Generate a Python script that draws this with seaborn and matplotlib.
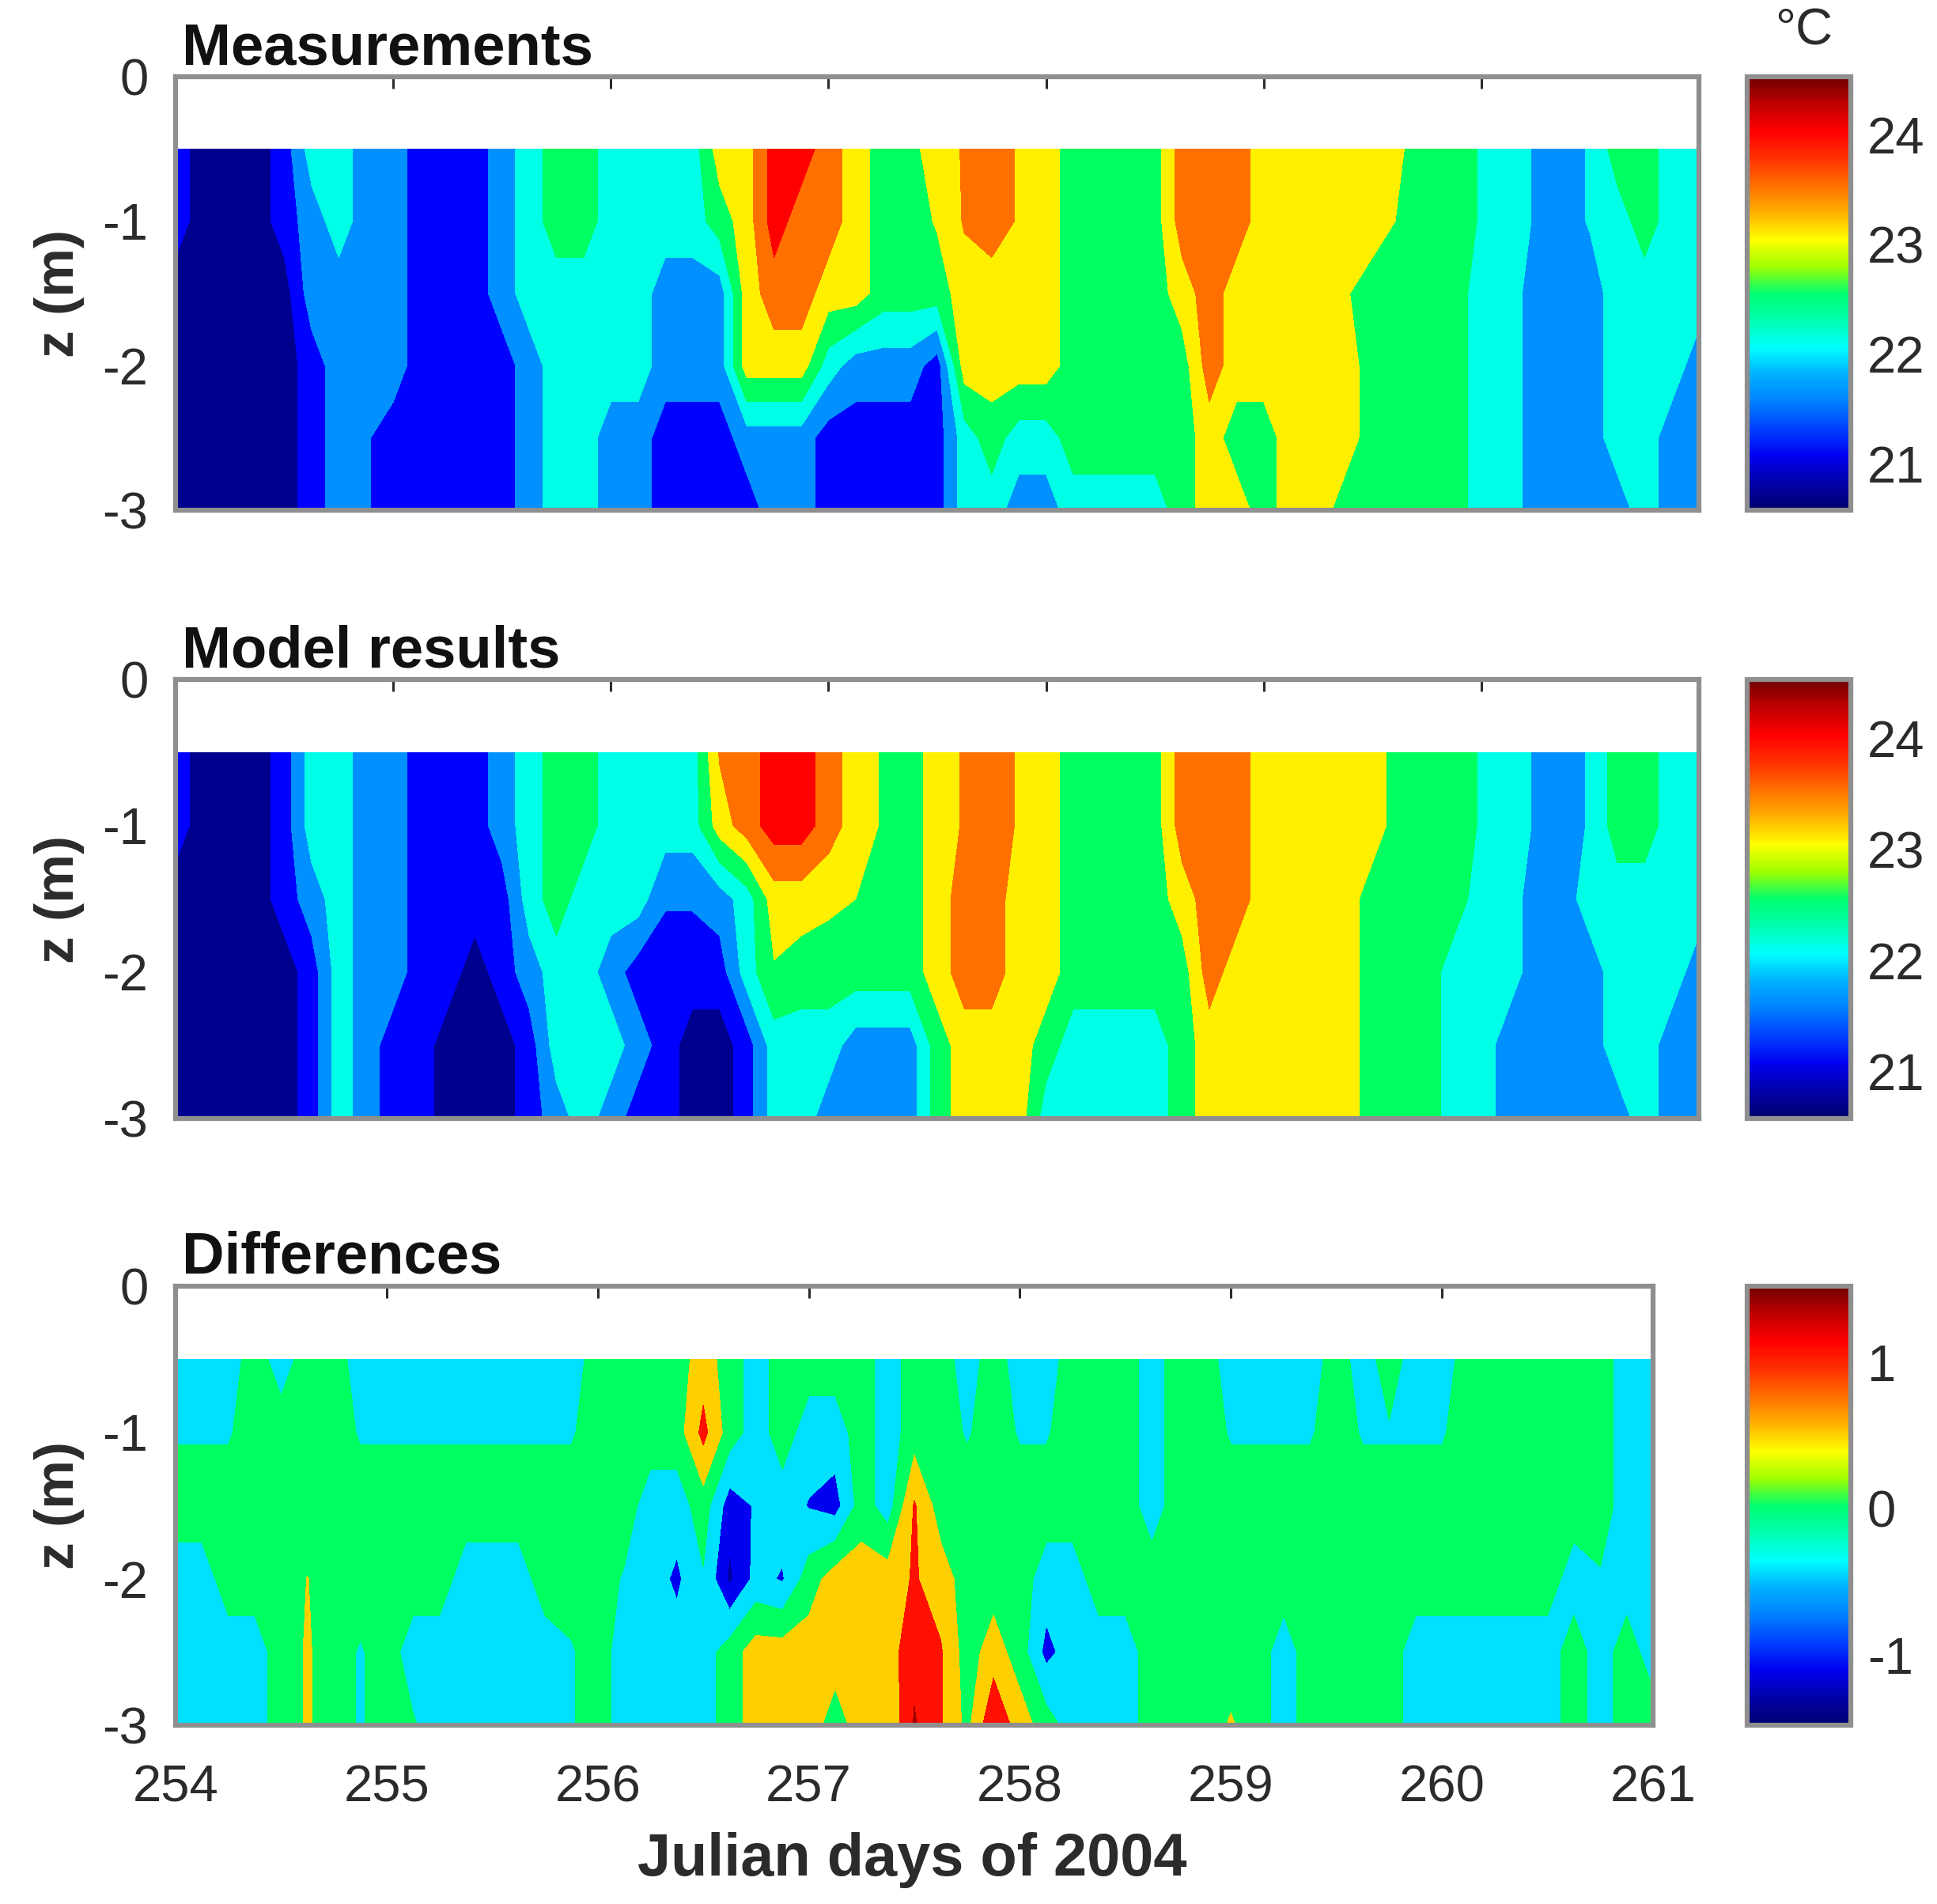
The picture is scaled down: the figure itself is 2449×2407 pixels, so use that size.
import numpy as np
import matplotlib
matplotlib.use("Agg")
import matplotlib.pyplot as plt
from matplotlib.cm import ScalarMappable
from matplotlib.colors import Normalize
import seaborn as sns

W, H = 2449, 2407

# one column every 1/8 day, 254 to 261
days = [254 + i / 8 for i in range(57)]
depths = [-0.5, -1.0, -1.5, -2.0, -2.5, -3.0]

# measured temperature (deg C)
meas_05 = [21, 20.6, 20.6, 20.6, 21, 22, 22, 21.5,
           21.5, 21, 21, 21, 21.5, 22, 22.5, 22.5,
           22, 22, 22, 22, 23, 23, 24, 24,
           23.5, 23, 22.5, 22.6, 23, 23.3, 23.5, 23.2,
           23, 22.5, 22.5, 22.5, 22.5, 23.5, 23.5, 23.5,
           23, 23, 23, 23, 23, 22.8, 22.5, 22.5,
           22.2, 22, 21.7, 21.5, 21.8, 22.5, 22.5, 22,
           22]
meas_10 = [21, 20.6, 20.6, 20.6, 21, 21.5, 22, 21.5,
           21.5, 21, 21, 21, 21.5, 22, 22.5, 22.5,
           22, 22, 22, 22, 22.5, 23, 24, 23.5,
           23.5, 23, 22.5, 22.5, 22.8, 23.3, 23.5, 23.2,
           23, 22.5, 22.5, 22.5, 22.5, 23.5, 23.5, 23.5,
           23, 23, 23, 23, 23, 22.7, 22.5, 22.5,
           22.2, 22, 21.7, 21.5, 21.8, 22, 22.5, 22,
           22]
meas_15 = [20.6, 20.6, 20.6, 20.6, 20.6, 21.5, 21.5, 21.5,
           21.5, 21, 21, 21, 21.5, 22, 22, 22,
           22, 22, 21.5, 21.5, 21.5, 23, 23.5, 23.5,
           23, 23, 22.5, 22.5, 22.5, 23, 23, 23,
           23, 22.5, 22.5, 22.5, 22.5, 23, 23.5, 23,
           23, 23, 23, 22.8, 22.5, 22.5, 22.5, 22.5,
           22, 22, 21.5, 21.5, 21.5, 22, 22, 22,
           22]
meas_20 = [20.6, 20.6, 20.6, 20.6, 20.6, 21, 21.5, 21.5,
           21.5, 21, 21, 21, 21, 21.5, 22, 22,
           22, 22, 21.5, 21.5, 21.5, 23, 23, 23,
           22, 21.5, 21.5, 21.5, 21, 23, 23, 23,
           23, 22.5, 22.5, 22.5, 22.5, 22.5, 23.5, 23,
           23, 23, 23, 23, 22.5, 22.5, 22.5, 22.5,
           22, 22, 21.5, 21.5, 21.5, 22, 22, 22,
           21.5]
meas_25 = [20.6, 20.6, 20.6, 20.6, 20.6, 21, 21.5, 21.3,
           21, 21, 21, 21, 21, 21.5, 22, 22,
           21.5, 21.5, 21, 21, 21, 21.5, 21.5, 21.5,
           21, 21, 21, 21, 21, 22, 22.5, 22,
           22, 22.5, 22.5, 22.5, 22.5, 22.5, 23, 22.5,
           22.5, 23, 23, 23, 22.5, 22.5, 22.5, 22.5,
           22, 22, 21.5, 21.5, 21.5, 22, 22, 21.5,
           21.5]
meas_30 = [20.6, 20.6, 20.6, 20.6, 20.6, 21, 21.5, 21.3,
           21, 21, 21, 21, 21, 21.5, 22, 22,
           21.5, 21.5, 21, 21, 21, 21, 21.5, 21.5,
           21, 21, 21, 21, 21, 22, 22, 21.5,
           21.5, 22, 22, 22, 22, 22.5, 23, 23,
           22.5, 23, 23, 22.5, 22.5, 22.5, 22.5, 22.5,
           22, 22, 21.5, 21.5, 21.5, 21.5, 22, 21.5,
           21.5]

# model temperature (deg C)
model_05 = [21, 20.6, 20.6, 20.6, 21, 22, 22, 21.5,
            21.5, 21, 21, 21, 21.5, 22, 22.5, 22.5,
            22, 22, 22, 22, 23.3, 23.5, 24, 24,
            23.5, 23, 22.7, 22.5, 23, 23.3, 23.5, 23.2,
            23, 22.5, 22.5, 22.5, 22.5, 23.5, 23.5, 23.5,
            23, 23, 23, 23, 23, 22.5, 22.5, 22.5,
            22.2, 22, 21.7, 21.5, 21.8, 22.5, 22.5, 22,
            22]
model_10 = [21, 20.6, 20.6, 20.6, 21, 22, 22, 21.5,
            21.5, 21, 21, 21, 21.5, 22, 22.5, 22.5,
            22, 22, 22, 22, 23, 23.5, 24, 24,
            23.5, 23, 22.7, 22.5, 23, 23.3, 23.5, 23.2,
            23, 22.5, 22.5, 22.5, 22.5, 23.5, 23.5, 23.5,
            23, 23, 23, 23, 23, 22.5, 22.5, 22.5,
            22.2, 22, 21.7, 21.5, 21.8, 22.5, 22.5, 22,
            22]
model_15 = [20.6, 20.6, 20.6, 20.6, 21, 21.5, 22, 21.5,
            21.5, 21, 21, 21, 21, 22, 22.5, 22,
            22, 22, 21.3, 21.3, 21.5, 22, 23, 23,
            22.85, 22.75, 22.5, 22.5, 23, 23.5, 23.5, 23,
            23, 22.5, 22.5, 22.5, 22.5, 23, 23.5, 23.5,
            23, 23, 23, 23, 22.5, 22.5, 22.5, 22.5,
            22, 22, 21.5, 21.5, 22, 22, 22, 22,
            22]
model_20 = [20.6, 20.6, 20.6, 20.6, 20.6, 21, 22, 21.5,
            21.5, 21, 21, 20.6, 21, 21.5, 22, 22,
            21.5, 21, 21, 21, 21, 22, 22.7, 22.5,
            22.5, 22.5, 22.5, 22.5, 23, 23.5, 23.5, 23,
            23, 22.5, 22.5, 22.5, 22.5, 22.5, 23.5, 23,
            23, 23, 23, 23, 22.5, 22.5, 22.5, 22,
            22, 22, 21.5, 21.5, 21.5, 22, 22, 22,
            21.5]
model_25 = [20.6, 20.6, 20.6, 20.6, 20.6, 21, 22, 21.5,
            21, 21, 20.6, 20.6, 20.6, 21, 22, 22,
            22, 21.5, 21, 20.6, 20.6, 21, 22, 22,
            22, 21.5, 21.5, 21.5, 22.5, 23, 23, 23,
            22.5, 22, 22, 22, 22, 22.5, 23, 23,
            23, 23, 23, 23, 22.5, 22.5, 22.5, 22,
            22, 21.5, 21.5, 21.5, 21.5, 22, 22, 21.5,
            21.5]
model_30 = [20.6, 20.6, 20.6, 20.6, 20.6, 21, 22, 21.5,
            21, 21, 20.6, 20.6, 20.6, 21, 21.5, 22,
            21.5, 21, 21, 20.6, 20.6, 21, 22, 22,
            21.5, 21.5, 21.5, 21.5, 22.5, 23, 23, 23,
            22, 22, 22, 22, 22, 22.5, 23, 23,
            23, 23, 23, 23, 22.5, 22.5, 22.5, 22,
            22, 21.5, 21.5, 21.5, 21.5, 21.5, 22, 21.5,
            21.5]

# model minus measurements (deg C)
diff_05 = [-0.5, -0.5, -0.5, 0, -0.5, 0, 0, -0.5,
           -0.5, -0.5, -0.5, -0.5, -0.5, -0.5, -0.5, -0.5,
           0, 0, 0, 0, 0.5, 0, -0.5, 0,
           0, 0, 0, -0.5, 0, 0, -0.5, 0,
           -0.5, -0.5, 0, 0, 0, -0.5, 0, 0,
           -0.5, -0.5, -0.5, -0.5, 0, -0.5, 0, -0.5,
           -0.5, 0, 0, 0, 0, 0, 0, -0.5,
           -0.5]
diff_10 = [-0.3, -0.3, -0.3, 0, 0, 0, 0, -0.3,
           -0.3, -0.3, -0.3, -0.3, -0.3, -0.3, -0.3, -0.3,
           0, 0, 0, 0, 0.9, 0, -0.5, 0,
           -0.5, -0.5, 0, -0.5, 0, 0, -0.3, 0,
           -0.3, -0.3, 0, 0, 0, -0.5, 0, 0,
           -0.3, -0.3, -0.3, -0.3, 0, -0.3, -0.3, -0.3,
           -0.3, 0, 0, 0, 0, 0, 0, -0.5,
           -0.5]
diff_15 = [0, 0, 0, 0, 0, 0, 0, 0,
           0, 0, 0, 0, 0, 0, 0, 0,
           0, 0, -0.5, -0.5, 0, -1, -0.7, -0.5,
           -0.78, -0.95, 0, -0.5, 0.8, 0, 0, 0,
           0, 0, 0, 0, 0, -0.5, 0, 0,
           0, 0, 0, 0, 0, 0, 0, 0,
           0, 0, 0, 0, 0, 0, 0, -0.5,
           -0.5]
diff_20 = [-0.5, -0.5, 0, 0, 0, 0.26, 0, 0,
           0, 0, 0, -0.5, -0.5, -0.5, 0, 0,
           0, -0.3, -0.5, -0.85, -0.3, -1.3, -0.6, -0.8,
           0, 0.5, 0.5, 0.5, 0.8, 0.5, 0, 0,
           0, -0.5, -0.5, 0, 0, 0, 0, 0,
           0, 0, 0, 0, 0, 0, 0, 0,
           0, 0, 0, 0, 0, -0.5, -0.3, -0.5,
           -0.5]
diff_25 = [-0.5, -0.5, -0.5, -0.5, 0, 0.3, 0, -0.3,
           0, -0.5, -0.5, -0.5, -0.5, -0.5, -0.5, -0.3,
           0, -0.5, -0.5, -0.5, -0.5, 0, 0.5, 0.5,
           0.5, 0.5, 0.5, 0.5, 1.1, 0.8, 0, 0.5,
           0, -0.9, -0.5, -0.5, -0.5, 0, 0, 0,
           0, 0, -0.5, 0, 0, 0, 0, -0.5,
           -0.5, -0.5, -0.5, -0.5, -0.5, 0, -0.5, 0,
           -0.5]
diff_30 = [-0.5, -0.5, -0.5, -0.5, 0, 0.3, 0, -0.3,
           0, -0.2, -0.5, -0.5, -0.5, -0.5, -0.5, -0.3,
           0, -0.5, -0.5, -0.5, -0.5, 0, 0.5, 0.5,
           0.5, 0, 0.5, 0.3, 1.3, 0.8, 0.1, 1.2,
           0.5, 0, -0.5, -0.5, -0.5, 0, 0, 0,
           0.3, 0, -0.5, 0, 0, 0, 0, -0.5,
           -0.5, -0.5, -0.5, -0.5, -0.5, 0, -0.5, 0,
           0]

temp_levels = [20, 20.8, 21.25, 21.75, 22.25, 22.75, 23.25, 23.75, 25]
temp_colors = ["#00008f", "#0000ff", "#0090ff", "#00ffe6",
               "#00ff60", "#fff000", "#ff7000", "#ff0000"]
diff_levels = [-2, -1.2, -0.75, -0.25, 0.25, 0.75, 1.25, 2]
diff_colors = ["#0000a0", "#0000f0", "#00e0ff", "#00ff60",
               "#ffd000", "#ff1000", "#a00000"]

bar_colors = ["#000070", "#0000a8", "#0000f0", "#0040ff", "#0080ff", "#00b0ff",
              "#00ffff", "#00ffb0", "#00ff70", "#a0ff00", "#ffff00", "#ffb000",
              "#ff7000", "#ff3000", "#ff0000", "#c00000", "#700000"]

sns.set_theme(style="white")
plt.rcParams["font.family"] = ["Liberation Sans", "DejaVu Sans"]
gray = "#8f8f8f"
dark = "#2b2b2b"
bar_cmap = sns.blend_palette(bar_colors, n_colors=64, as_cmap=True)


def box(left, top, right, bottom):
    return [left / W, 1 - bottom / H, (right - left) / W, (bottom - top) / H]


def panel(fig, rect, rows, levels, colors, title, bar_rect, bar_range, bar_ticks, labelled=False):
    ax = fig.add_axes(box(*rect))
    ax.contourf(days, depths, np.array(rows), levels=levels, colors=colors)
    ax.set_xlim(254, 261)
    ax.set_ylim(-3, 0)
    ax.set_xticks(range(254, 262))
    ax.set_yticks([0, -1, -2, -3])
    ax.set_yticklabels(["0", "-1", "-2", "-3"], fontsize=47, color=dark)
    ax.tick_params(axis="y", direction="in", length=11, width=2.2, color=dark,
                   left=True, right=True, pad=25)
    ax.tick_params(axis="x", direction="in", length=11, width=2.2, color=dark,
                   top=True, bottom=True, pad=36, labelbottom=labelled, labelsize=47,
                   labelcolor=dark)
    for sp in ax.spines.values():
        sp.set_color(gray)
        sp.set_linewidth(4.5)
        sp.set_visible(True)
    ax.text(230 / W, 1 - (rect[1] - 16) / H, title, transform=fig.transFigure,
            fontsize=53.5, fontweight="bold", color="#111111", ha="left", va="baseline")
    fig.text(75 / W, 1 - (rect[1] + rect[3]) / 2 / H, "z (m)", rotation=90, fontsize=50,
             fontweight="bold", color=dark, ha="center", va="center")

    cax = fig.add_axes(box(*bar_rect))
    sm = ScalarMappable(Normalize(*bar_range), bar_cmap)
    cb = fig.colorbar(sm, cax=cax, ticks=bar_ticks)
    cb.ax.set_yticklabels([str(t) for t in bar_ticks], fontsize=47, color=dark)
    cb.ax.tick_params(direction="in", length=7, width=2.2, color=dark, pad=15, right=True)
    cb.outline.set_edgecolor(gray)
    cb.outline.set_linewidth(4.5)
    return ax, cax


fig = plt.figure(figsize=(W / 100, H / 100), dpi=100, facecolor="white")

ax1, cax1 = panel(fig, (222, 97, 2148, 645),
                  [meas_05, meas_10, meas_15, meas_20, meas_25, meas_30],
                  temp_levels, temp_colors, "Measurements",
                  (2209, 97, 2340, 645), (20.58, 24.53), [21, 22, 23, 24])
cax1.text(0.55, 1.05, "°C", transform=cax1.transAxes, fontsize=47, color=dark,
          ha="center", va="bottom")
panel(fig, (222, 859, 2148, 1414),
      [model_05, model_10, model_15, model_20, model_25, model_30],
      temp_levels, temp_colors, "Model results",
      (2209, 859, 2340, 1414), (20.58, 24.53), [21, 22, 23, 24])
panel(fig, (222, 1626, 2090, 2181),
      [diff_05, diff_10, diff_15, diff_20, diff_25, diff_30],
      diff_levels, diff_colors, "Differences",
      (2209, 1626, 2340, 2181), (-1.48, 1.52), [-1, 0, 1], labelled=True)

fig.text(1153 / W, 1 - 2371 / H, "Julian days of 2004", fontsize=54.5, fontweight="bold",
         color=dark, ha="center", va="baseline")

fig.savefig("out.png", dpi=100, facecolor="white")
